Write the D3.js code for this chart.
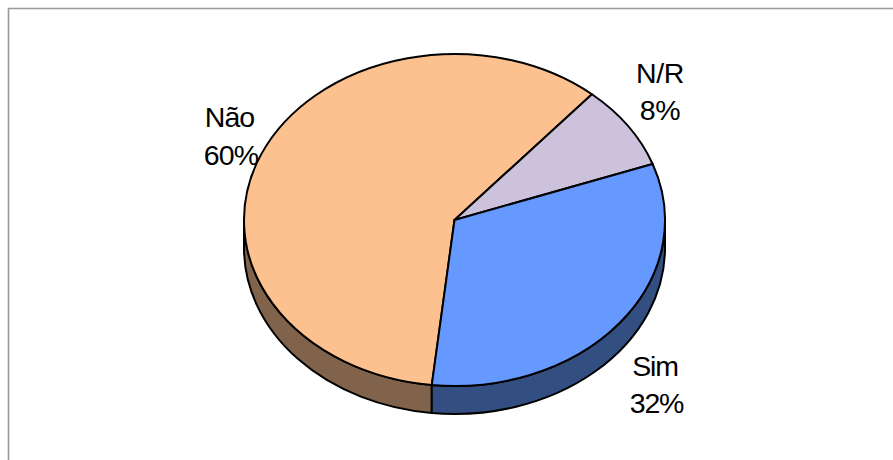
<!DOCTYPE html>
<html><head><meta charset="utf-8">
<script src="https://cdn.jsdelivr.net/npm/d3@7"></script>
<style>html,body{margin:0;padding:0;background:#fff}svg{display:block}
text{font-family:"Liberation Sans",Arial,sans-serif;font-size:28.5px;fill:#000;text-anchor:middle}</style>
</head><body><script>
const categories = ["Não", "N/R", "Sim"];
const values = [59.6, 8.2, 32.2];
const topColors = ["#FCC18F", "#CCC2DB", "#6699FF"];
const wallColors = ["#80634A", "#66617A", "#334F82"];

const W = 893, H = 460, cx = 454.5, cy = 220, rx = 210.5, ry = 166, depth = 28;
const startDeg = 186.2;
const labelPos = [
  {name:[229.5,127], pct:[231,165], ls:"-0.9px"},
  {name:[660,83],  pct:[660,120], ls:"-0.3px"},
  {name:[655,376], pct:[656.5,413], ls:"-1.2px"}
];

const svg = d3.select("body").append("svg").attr("width",W).attr("height",H);
svg.append("path").attr("d",`M8.5 ${H}V8.5H${W}`).attr("fill","none").attr("stroke","#999").attr("stroke-width",1.6);

// labels sit beneath the pie, whose edge crosses the 60% label
categories.forEach((c,i)=>{
  const p = labelPos[i];
  svg.append("text").attr("x",p.name[0]).attr("y",p.name[1]).style("letter-spacing",p.ls).text(c);
  svg.append("text").attr("x",p.pct[0]).attr("y",p.pct[1]).style("letter-spacing",p.ls).text(Math.round(values[i])+"%");
});

const pie = d3.pie().sort(null).startAngle(startDeg*Math.PI/180).endAngle((startDeg+360)*Math.PI/180);
const arcs = pie(values);
const arc = d3.arc().innerRadius(0).outerRadius(rx);
const px = a => cx + rx*Math.sin(a), py = a => cy - ry*Math.cos(a);

// front walls: the part of each slice between 90° and 270° on the ellipse
const wall = svg.append("g");
arcs.forEach((d,i)=>{
  for (const k of [0,1]) {
    const a0 = Math.max(d.startAngle, Math.PI/2 + k*2*Math.PI), a1 = Math.min(d.endAngle, 3*Math.PI/2 + k*2*Math.PI);
    if (a1 <= a0) continue;
    wall.append("path")
      .attr("d",`M${px(a0)} ${py(a0)}A${rx} ${ry} 0 0 1 ${px(a1)} ${py(a1)}L${px(a1)} ${py(a1)+depth}A${rx} ${ry} 0 0 0 ${px(a0)} ${py(a0)+depth}Z`)
      .attr("fill",wallColors[i]).attr("stroke","#000").attr("stroke-width",2).attr("stroke-linejoin","round");
  }
});

// top face
svg.append("g").attr("transform",`translate(${cx},${cy}) scale(1,${ry/rx})`)
  .selectAll("path").data(arcs).join("path")
  .attr("d",arc).attr("fill",(d,i)=>topColors[i])
  .attr("stroke","#000").attr("stroke-width",2).attr("stroke-linejoin","round")
  .attr("vector-effect","non-scaling-stroke");
</script></body></html>
